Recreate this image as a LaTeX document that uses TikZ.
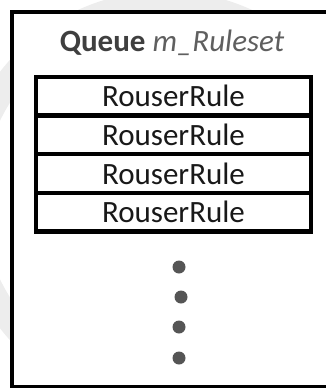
\documentclass[tikz,border=0pt]{standalone}
\usepackage{fontspec}
\setmainfont{Carlito}
\usetikzlibrary{positioning}
\definecolor{titlegray}{HTML}{3F3F3F}
\definecolor{namegray}{HTML}{5F5F5F}
\definecolor{dotgray}{HTML}{555555}
\tikzset{
  frame/.style   ={line width=4.5pt, line join=miter},
  rulebox/.style ={draw, line width=4.5pt, outer sep=0pt, inner sep=0pt,
                   minimum width=275pt, minimum height=38.6pt,
                   font=\fontsize{31}{32}\selectfont, text=black!90},
  qtitle/.style  ={font=\fontsize{31}{32}\selectfont},
  dot/.style     ={circle, fill=dotgray, inner sep=0pt, minimum size=13pt},
}

\begin{document}
\begin{tikzpicture}[x=1pt, y=-1pt]
  \useasboundingbox (0,0) rectangle (326,388);
  % faint ring behind the frame
  \draw[gray!14, line width=26pt] (165,200) circle (196);
  % outer frame, right side runs off the page
  \fill[white] (12,12) rectangle (326,387);
  \draw[frame] (330,12) -- (12,12) -- (12,387) -- (330,387);

  \node[qtitle] (title) at (172,43)
        {\textcolor{titlegray}{\bfseries Queue} \textcolor{namegray}{\itshape m\_Ruleset}};

  % the queued rules
  \node[rulebox] (rule1) at (173.5,96.3) {RouserRule};
  \node[rulebox, below=0pt of rule1] (rule2) {RouserRule};
  \node[rulebox, below=0pt of rule2] (rule3) {RouserRule};
  \node[rulebox, below=0pt of rule3] (rule4) {RouserRule};

  % more to come
  \foreach \i/\x/\y in {1/179/267, 2/181/297, 3/179/327, 4/179/358}
    \node[dot] (more\i) at (\x,\y) {};
\end{tikzpicture}
\end{document}
